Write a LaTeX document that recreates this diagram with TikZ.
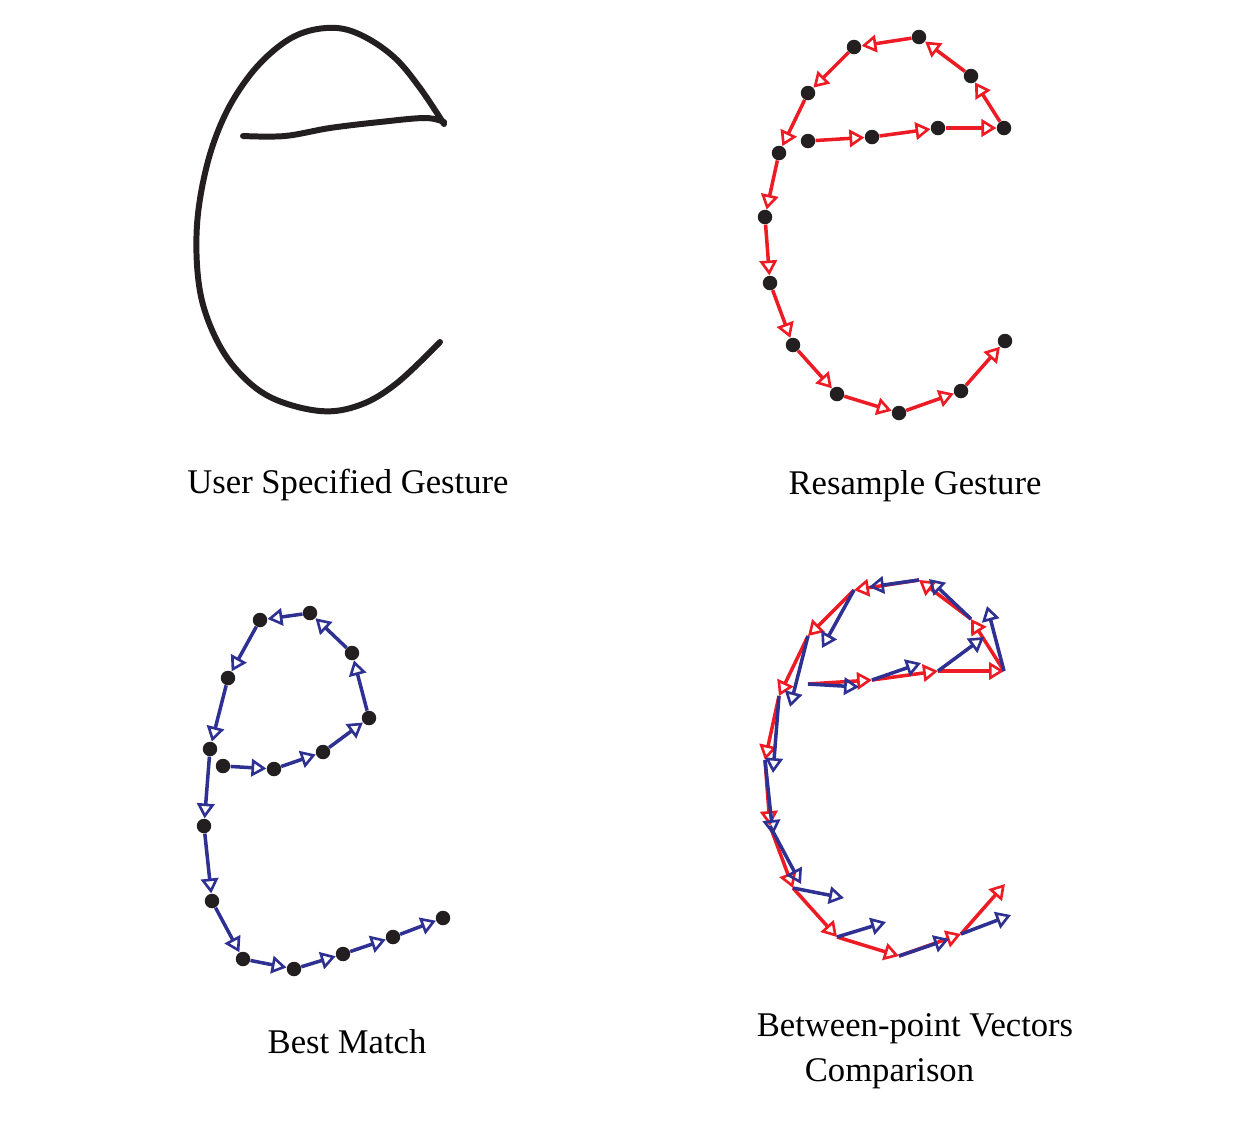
\documentclass[tikz,border=0pt]{standalone}
\usepackage{fontspec}
\setmainfont{Liberation Serif}
\usetikzlibrary{arrows.meta,calc}
\definecolor{strokered}{RGB}{237,28,36}
\definecolor{matchblue}{RGB}{46,49,146}
\definecolor{inkblack}{RGB}{35,31,32}

\begin{document}
\begin{tikzpicture}[x=0.02cm, y=-0.02cm,
  every node/.style = {font=\fontsize{19.7}{25.5}\selectfont},
  vec/.style = {line width=2pt,
    -{Triangle[open, length=8.5pt, width=10pt, line width=1.5pt]}},
  redvec/.style = {vec, strokered},
  bluevec/.style = {vec, matchblue},
  sample/.style = {circle, fill=inkblack, inner sep=0pt, minimum size=0.29cm}]
  \useasboundingbox (0,0) rectangle (1259,1127);

  % user specified gesture
  \draw[inkblack, line width=3.4pt, line cap=round]
    plot[smooth, tension=0.6] coordinates {(243,136) (285,136) (330,128)
      (380,122) (425,118) (444,122)};
  \draw[inkblack, line width=3.4pt, line cap=round]
    plot[smooth, tension=0.6] coordinates {(444,124) (420,88) (395,58)
      (365,37) (337,28) (305,32) (278,47) (250,75) (225,115) (207,165)
      (197,225) (199,285) (212,330) (235,368) (270,397) (320,411)
      (360,405) (397,383) (440,342)};

  % resampled points
  \foreach \n/\x/\y in {1/808/141, 2/872/137, 3/938/128, 4/1004/128,
      5/971/76, 6/919/37, 7/854/47, 8/808/93, 9/779/153, 10/765/217,
      11/770/283, 12/793/345, 13/837/394, 14/899/413, 15/961/391,
      16/1005/341}
    \coordinate (r\n) at (\x,\y);

  % best match points
  \foreach \n/\x/\y in {1/223/766, 2/274/769, 3/323/752, 4/369/718,
      5/352/653, 6/310/613, 7/260/620, 8/228/678, 9/210/749,
      10/204/826, 11/212/901, 12/243/959, 13/294/969, 14/343/954,
      15/393/937, 16/443/918}
    \coordinate (b\n) at (\x,\y);

  % resample gesture
  \foreach \i in {1,...,16}
    \node[sample] (rs\i) at (r\i) {};
  \foreach \i [evaluate=\i as \j using int(\i+1)] in {1,...,15}
    \draw[redvec] (rs\i) -- (rs\j);

  % best match
  \foreach \i in {1,...,16}
    \node[sample] (bm\i) at (b\i) {};
  \foreach \i [evaluate=\i as \j using int(\i+1)] in {1,...,15}
    \draw[bluevec] (bm\i) -- (bm\j);

  % between-point vectors comparison
  \foreach \i in {1,...,16}
    \coordinate (c\i) at ($(r\i)+(0,543)$);
  \foreach \i [evaluate=\i as \j using int(\i+1)] in {1,...,15}
    \draw[redvec] (c\i) -- (c\j);
  \foreach \i [evaluate=\i as \j using int(\i+1)] in {1,...,15}
    \draw[bluevec] (c\i) -- ($(c\i)+(b\j)-(b\i)$);

  % captions
  \node (userlabel) at (348,485) {User Specified Gesture};
  \node (resamplelabel) at (915,486) {Resample Gesture};
  \node (matchlabel) at (347,1042) {Best Match};
  \node[align=left] (comparelabel) at (915,1051)
    {Between-point Vectors\\\hspace*{0.96cm}Comparison};
\end{tikzpicture}
\end{document}
